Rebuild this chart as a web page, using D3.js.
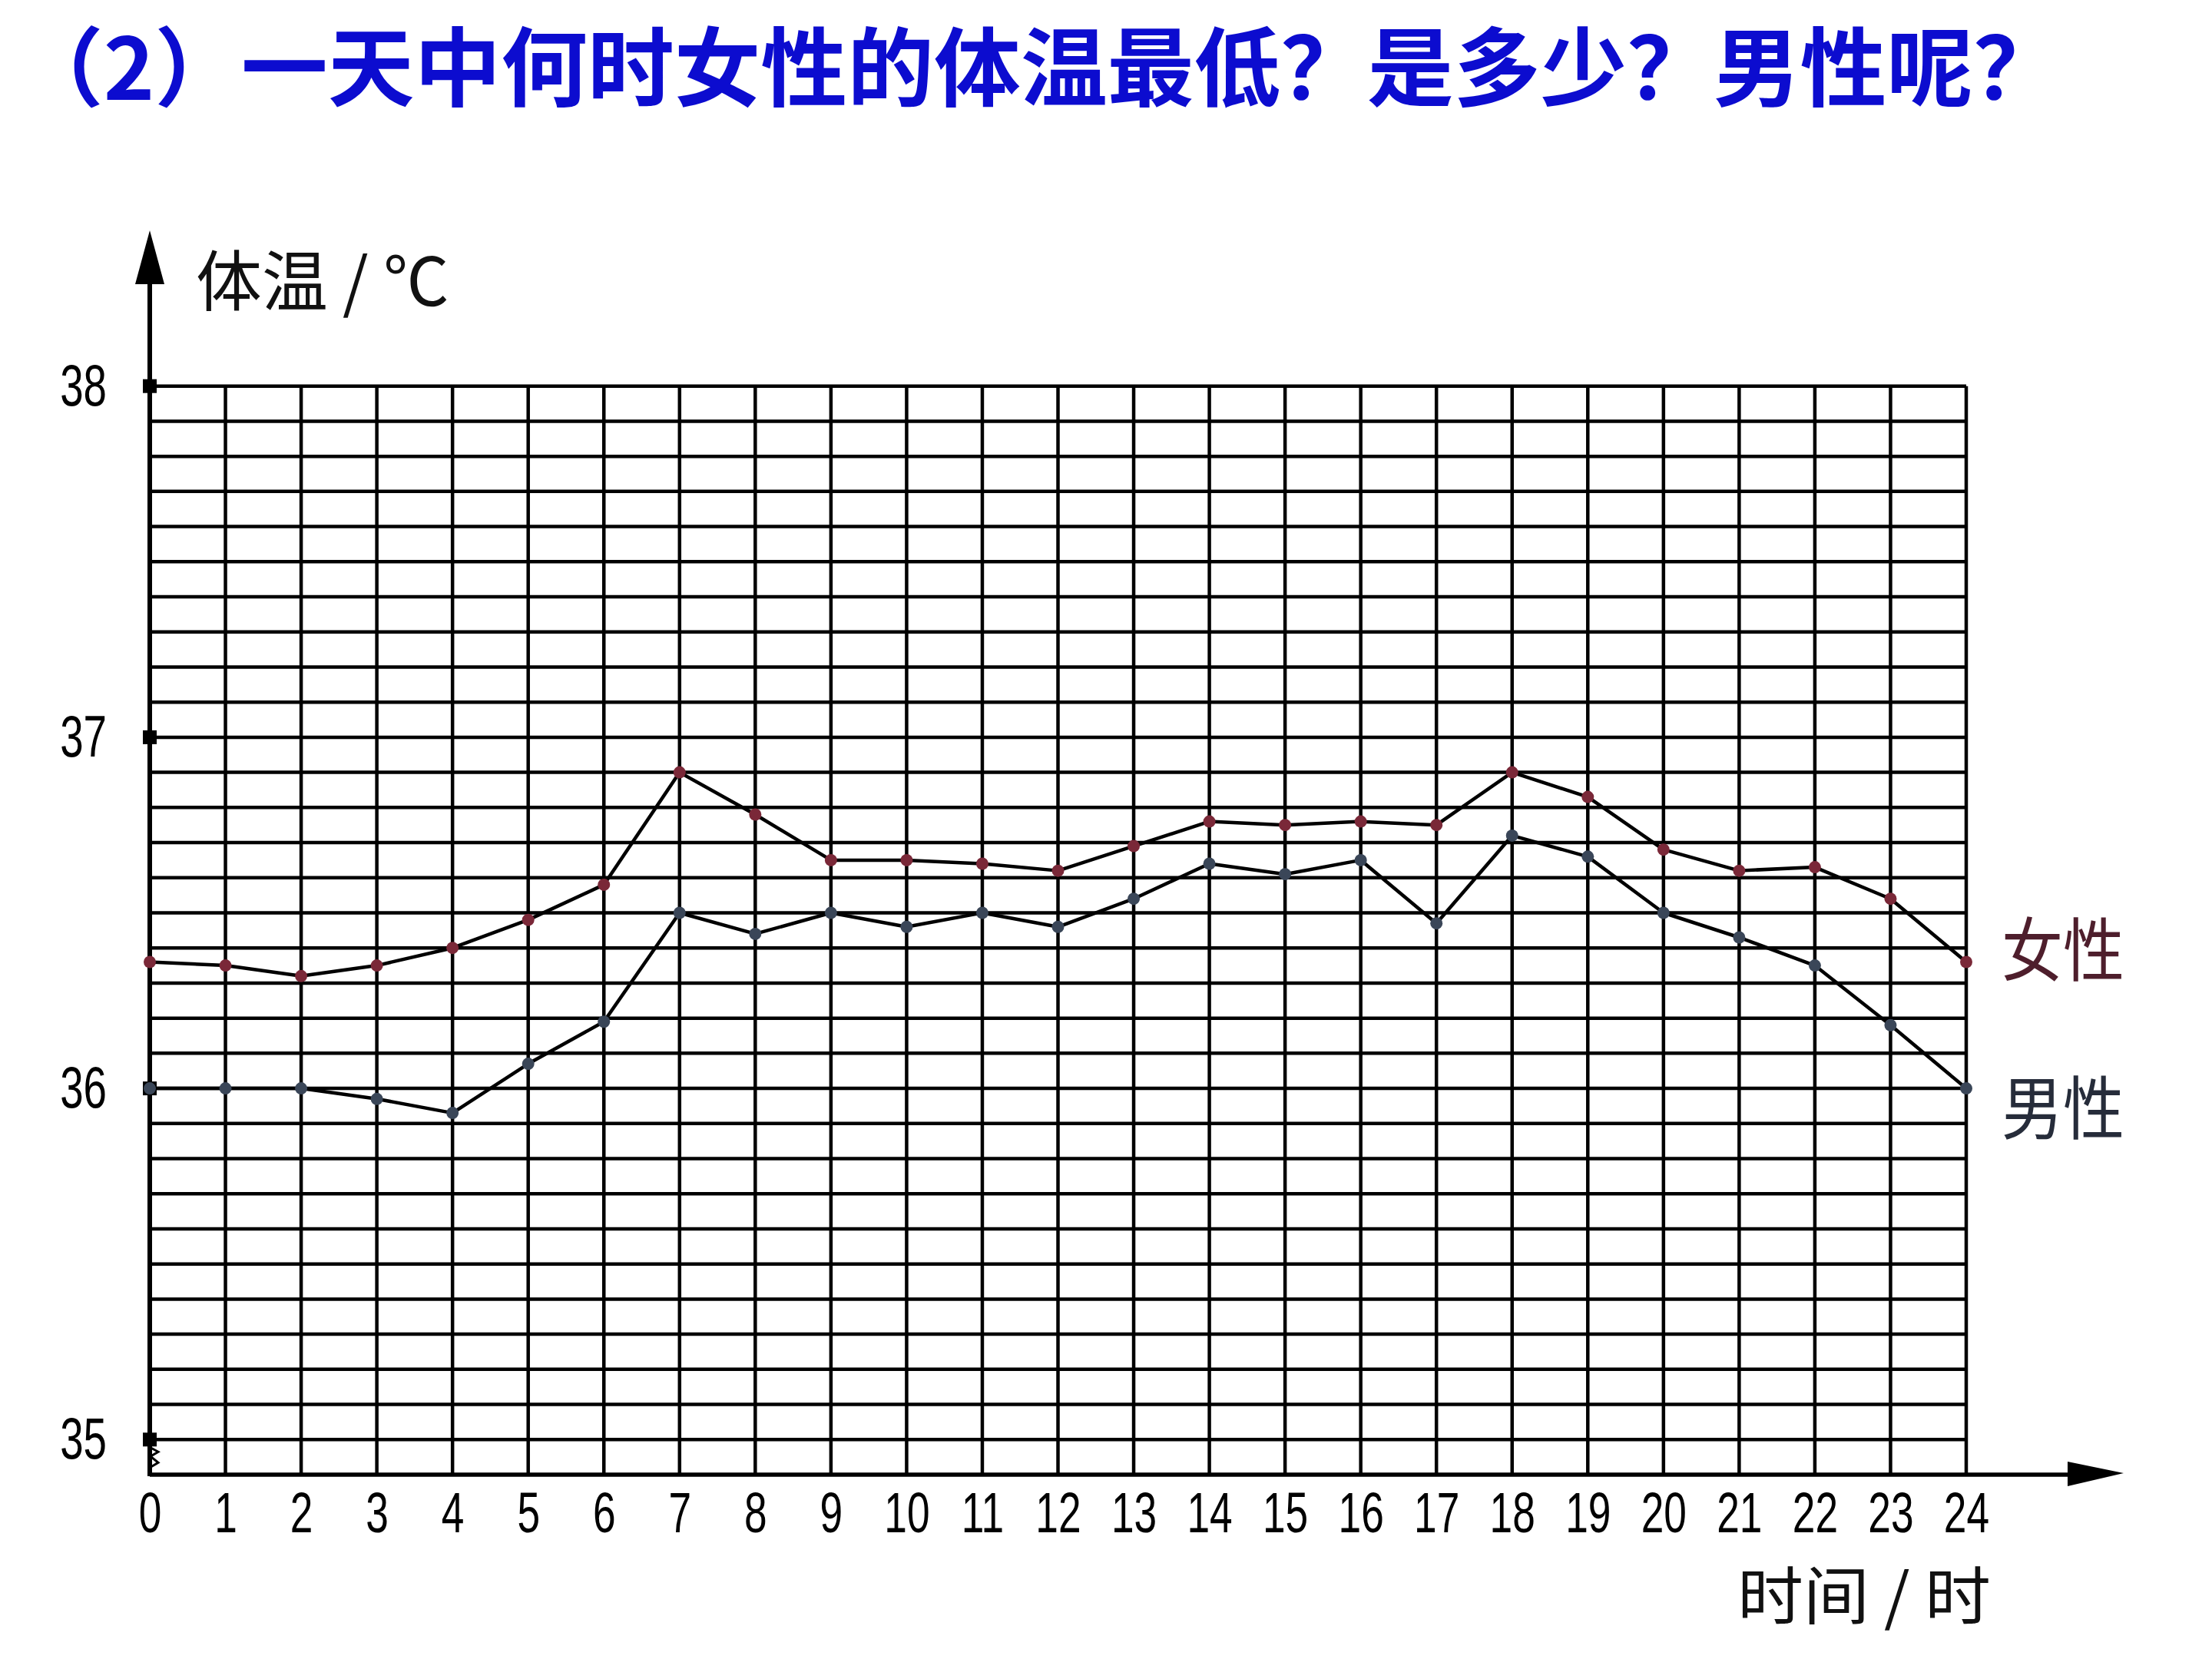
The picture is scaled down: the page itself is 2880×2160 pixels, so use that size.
<!DOCTYPE html>
<html><head><meta charset="utf-8">
<script src="https://cdn.jsdelivr.net/npm/d3@7"></script>
<style>html,body{margin:0;padding:0;background:#fff;} svg{display:block;background:#fff;}</style>
</head><body>
<svg id="chart" width="2880" height="2160"></svg>
<script>
// ---- data ----
const hours = [0,1,2,3,4,5,6,7,8,9,10,11,12,13,14,15,16,17,18,19,20,21,22,23,24];
const xTickLabels = ["0","1","2","3","4","5","6","7","8","9","10","11","12","13","14","15","16","17","18","19","20","21","22","23","24"];
const femaleTemps = [36.36,36.35,36.32,36.35,36.40,36.48,36.58,36.90,36.78,36.65,36.65,36.64,36.62,36.69,36.76,36.75,36.76,36.75,36.90,36.83,36.68,36.62,36.63,36.54,36.36];
const maleTemps   = [36.00,36.00,36.00,35.97,35.93,36.07,36.19,36.50,36.44,36.50,36.46,36.50,36.46,36.54,36.64,36.61,36.65,36.47,36.72,36.66,36.50,36.43,36.35,36.18,36.00];
const yTickValues = [35, 36, 37, 38];
const seriesNames = ["女性", "男性"];
const titleText = "（2）一天中何时女性的体温最低？是多少？男性呢？";
const yAxisTitle = "体温 / ℃";
const xAxisTitle = "时间 / 时";

// ---- layout ----
const svg = d3.select("#chart");
const x = d3.scaleLinear().domain([0, 24]).range([195, 2560]);
const y = d3.scaleLinear().domain([34.9, 38]).range([1920, 502.7]);
const gridVals = d3.range(0, 31).map(i => +(35 + i / 10).toFixed(1));
const digitFont = '"Liberation Sans","DejaVu Sans",sans-serif';
const cjkFont = '"Noto Sans CJK SC","Noto Sans",sans-serif';
const digitScale = 0.72;

// title
svg.append("text")
  .attr("x", 22).attr("y", 130)
  .attr("font-family", cjkFont).attr("font-weight", 700)
  .attr("font-size", 112).attr("fill", "#0c0ccf")
  .attr("textLength", 2660).attr("lengthAdjust", "spacingAndGlyphs")
  .text(titleText);

// grid
const grid = svg.append("g").attr("stroke", "#000").attr("stroke-width", 4.5);
grid.selectAll("line.h").data(gridVals).join("line")
  .attr("x1", x(0)).attr("x2", x(24))
  .attr("y1", d => y(d)).attr("y2", d => y(d));
grid.selectAll("line.v").data(hours.filter(h => h > 0)).join("line")
  .attr("x1", d => x(d)).attr("x2", d => x(d))
  .attr("y1", y(38)).attr("y2", y(34.9));

// x axis line + arrow
svg.append("line").attr("x1", x(0)).attr("x2", 2695).attr("y1", y(34.9)).attr("y2", y(34.9))
  .attr("stroke", "#000").attr("stroke-width", 5.5);
svg.append("path").attr("d", `M2692,${y(34.9)-17}L2765,${y(34.9)-2}L2692,${y(34.9)+15}Z`).attr("fill", "#000");
// y axis line + arrow
svg.append("line").attr("x1", x(0)).attr("x2", x(0)).attr("y1", y(34.9)+2).attr("y2", 366)
  .attr("stroke", "#000").attr("stroke-width", 6);
svg.append("path").attr("d", `M${x(0)-19},370L${x(0)},300L${x(0)+19},370Z`).attr("fill", "#000");
// tick squares on y axis
svg.selectAll("rect.tk").data(yTickValues).join("rect")
  .attr("x", x(0) - 9).attr("y", d => y(d) - 9).attr("width", 18).attr("height", 18).attr("fill", "#000");
// axis break mark
svg.append("path")
  .attr("d", `M${x(0)},${y(35)+10}L${x(0)+11},${y(35)+16}L${x(0)+1},${y(35)+22}L${x(0)+11},${y(35)+30}L${x(0)+1},${y(35)+36}`)
  .attr("fill", "none").attr("stroke", "#000").attr("stroke-width", 3);

// axes labels via d3 axes
const xAxisG = svg.append("g").attr("transform", `translate(0,${y(34.9)})`)
  .call(d3.axisBottom(x).tickValues(hours).tickFormat((d, i) => xTickLabels[i]).tickSize(0).tickPadding(22));
xAxisG.select(".domain").remove();
xAxisG.selectAll("text").attr("font-family", digitFont).attr("font-size", 74).attr("fill", "#000")
  .attr("transform", `scale(${digitScale},1)`);

const yAxisG = svg.append("g").attr("transform", `translate(${x(0)},0)`)
  .call(d3.axisLeft(y).tickValues(yTickValues).tickFormat(d3.format("d")).tickSize(0).tickPadding(56 / digitScale));
yAxisG.select(".domain").remove();
yAxisG.selectAll("text").attr("font-family", digitFont).attr("font-size", 76).attr("fill", "#000")
  .attr("dy", "0.32em").attr("transform", `scale(${digitScale},1)`);

// axis titles
svg.append("text").attr("x", 255).attr("y", 398)
  .attr("font-family", cjkFont).attr("font-size", 86).attr("fill", "#111")
  .attr("textLength", 330).attr("lengthAdjust", "spacingAndGlyphs").text(yAxisTitle);
svg.append("text").attr("x", 2262).attr("y", 2108)
  .attr("font-family", cjkFont).attr("font-size", 82).attr("fill", "#111")
  .attr("textLength", 330).attr("lengthAdjust", "spacingAndGlyphs").text(xAxisTitle);

// series
const series = [
  {name: seriesNames[0], values: femaleTemps, marker: "#7a2838", label: "#4e1e2c", labelY: 1270},
  {name: seriesNames[1], values: maleTemps, marker: "#3a4658", label: "#262c3a", labelY: 1476}
];
const line = d3.line().x((d, i) => x(hours[i])).y(d => y(d));
series.forEach(s => {
  svg.append("path").attr("d", line(s.values)).attr("fill", "none")
    .attr("stroke", "#000").attr("stroke-width", 4.5).attr("stroke-linejoin", "round");
  svg.append("g").selectAll("circle").data(s.values).join("circle")
    .attr("cx", (d, i) => x(hours[i])).attr("cy", d => y(d))
    .attr("r", 8).attr("fill", s.marker);
  svg.append("text").attr("x", 2606).attr("y", s.labelY)
    .attr("font-family", cjkFont).attr("font-size", 90).attr("fill", s.label)
    .attr("textLength", 160).attr("lengthAdjust", "spacingAndGlyphs").text(s.name);
});
</script>
</body></html>
